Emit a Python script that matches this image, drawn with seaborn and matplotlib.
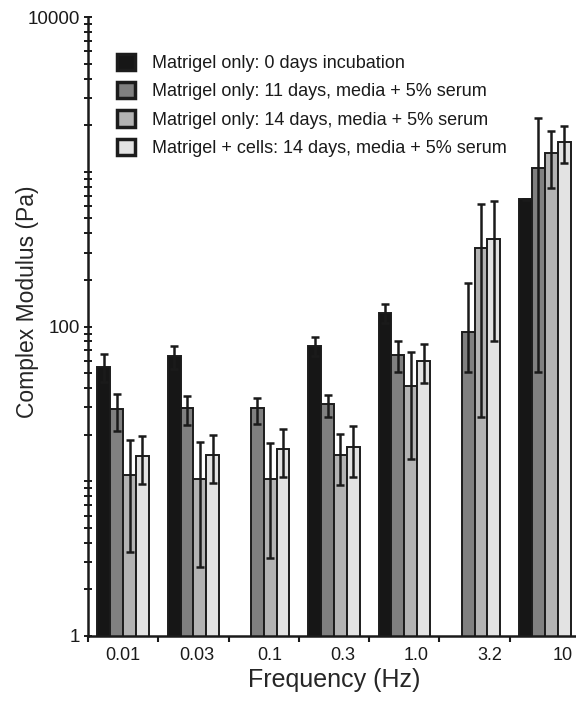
import numpy as np
import pandas as pd
import seaborn as sns
import matplotlib
matplotlib.use("Agg")
import matplotlib.pyplot as plt
from matplotlib.ticker import LogLocator, NullFormatter

# frequency groups (Hz) and the four sample series
freq_labels = ["0.01", "0.03", "0.1", "0.3", "1.0", "3.2", "10"]
series = [
    "Matrigel only: 0 days incubation",
    "Matrigel only: 11 days, media + 5% serum",
    "Matrigel only: 14 days, media + 5% serum",
    "Matrigel + cells: 14 days, media + 5% serum",
]
colors = ["#161616", "#808080", "#b3b3b3", "#e3e3e3"]

# complex modulus (Pa); nan = no bar
day0 = [55, 64, np.nan, 75, 123, np.nan, 663]
day0_err = [11, 11, 0, 10.7, 17.6, 0, 5]

day11 = [29.2, 29.7, 29.7, 31.6, 65.7, 92, 1052]
day11_lo = [8.1, 6.5, 6.4, 5.5, 14.7, 41, 1001]
day11_hi = [7.6, 6.0, 5.0, 4.5, 14.9, 100, 1161]

day14 = [11.0, 10.3, 10.4, 14.8, 41.1, 323, 1315]
day14_err = [7.5, 7.5, 7.2, 5.4, 27.2, 297, 530]

cells = [14.6, 14.8, 16.2, 16.7, 60.1, 366, 1563]
cells_err = [5, 5, 5.5, 6, 17, 285, 420]

values = [day0, day11, day14, cells]
err_lo = [day0_err, day11_lo, day14_err, cells_err]
err_hi = [day0_err, day11_hi, day14_err, cells_err]

df = pd.DataFrame({
    "Frequency": np.tile(freq_labels, len(series)),
    "Series": np.repeat(series, len(freq_labels)),
    "Modulus": np.concatenate(values),
})

sns.set_style("ticks")
plt.rcParams["font.family"] = ["Liberation Sans", "DejaVu Sans"]
plt.rcParams["text.color"] = "#1a1a1a"

fig = plt.figure(figsize=(5.76, 7.03), dpi=100)
ax = fig.add_axes([88 / 576, 67 / 703, 492 / 576, 619 / 703])

bar_width = 0.73
sns.barplot(data=df, x="Frequency", y="Modulus", hue="Series",
            order=freq_labels, hue_order=series, palette=colors,
            width=bar_width, edgecolor="#1c1c1c", linewidth=1.4,
            errorbar=None, saturation=1, legend=False, ax=ax)

# error bars, at the dodged bar centres
n = len(series)
w = bar_width / n
for k in range(n):
    vals = np.array(values[k], dtype=float)
    keep = ~np.isnan(vals)
    xs = np.arange(len(freq_labels)) - bar_width / 2 + w / 2 + k * w
    lo = np.array(err_lo[k])[keep]
    hi = np.array(err_hi[k])[keep]
    ax.errorbar(xs[keep], vals[keep], yerr=[lo, hi], fmt="none",
                ecolor="#1a1a1a", elinewidth=1.8, capsize=3, capthick=1.8,
                zorder=5)

ax.set_yscale("log")
ax.set_ylim(1, 10000)
ax.set_xlim(-0.5, 6.5)

ax.set_yticks([1, 10, 100, 1000, 10000], labels=["1", "", "100", "", "10000"])
ax.yaxis.set_minor_locator(LogLocator(base=10, subs=np.arange(2, 10)))
ax.yaxis.set_minor_formatter(NullFormatter())

# group boundaries carry the ticks, labels sit under the groups
ax.set_xticks(np.arange(-0.5, 7, 1), labels=[""] * 8)
ax.set_xticks(np.arange(7) * 1.043, labels=freq_labels, minor=True)
ax.tick_params(axis="x", which="major", direction="out", length=4, width=1.5,
               color="#1a1a1a")
ax.tick_params(axis="x", which="minor", length=0, labelsize=13, pad=8,
               labelcolor="#1a1a1a")
ax.tick_params(axis="y", which="both", direction="inout", length=6, width=1.4,
               color="#1a1a1a", labelsize=13.5, labelcolor="#1a1a1a", pad=3)

sns.despine(ax=ax)
for s in ["left", "bottom"]:
    ax.spines[s].set_linewidth(1.8)
    ax.spines[s].set_color("#1a1a1a")

ax.set_xlabel("Frequency (Hz)", fontsize=18, labelpad=3)
ax.set_ylabel("Complex Modulus (Pa)", fontsize=16.5)
ax.yaxis.set_label_coords(-0.100, 0.54)

handles = [plt.Rectangle((0, 0), 1, 1, facecolor=c, edgecolor="#1c1c1c",
                         linewidth=2.5) for c in colors]
ax.legend(handles, series, loc="upper left", frameon=False, fontsize=13,
          handlelength=1.0, handleheight=1.0, handletextpad=0.95,
          labelspacing=0.55, borderpad=0, borderaxespad=0,
          bbox_to_anchor=(117 / 576, 1 - 54 / 703),
          bbox_transform=fig.transFigure)

fig.savefig("out.png", dpi=100)
